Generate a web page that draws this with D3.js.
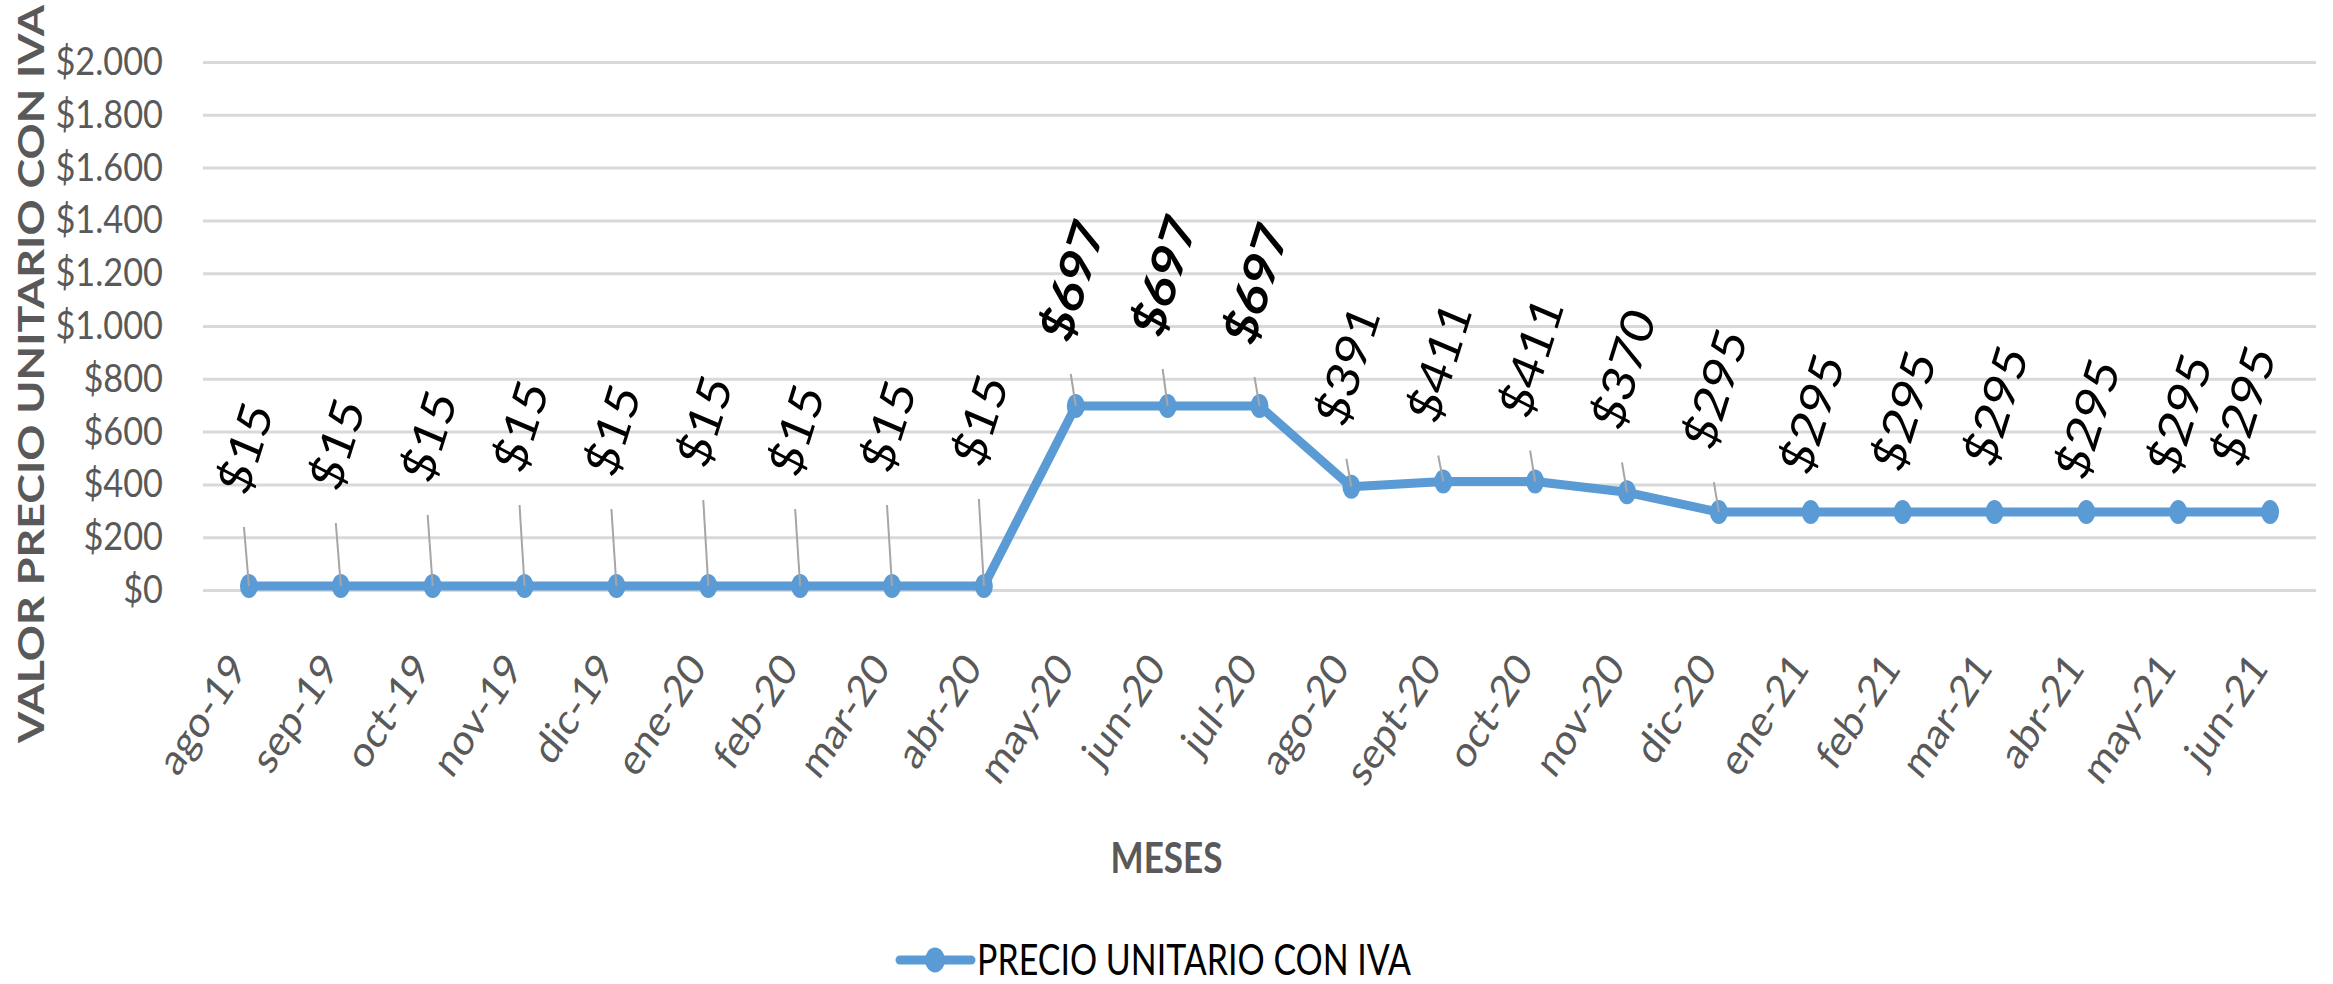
<!DOCTYPE html>
<html>
<head>
<meta charset="utf-8">
<script src="https://cdn.jsdelivr.net/npm/d3@7"></script>
<style>
body { margin: 0; background: #fff; }
</style>
</head>
<body>
<div id="chart"></div>
<script>
// Data
var months = ['ago-19', 'sep-19', 'oct-19', 'nov-19', 'dic-19', 'ene-20', 'feb-20', 'mar-20', 'abr-20',
  'may-20', 'jun-20', 'jul-20', 'ago-20', 'sept-20', 'oct-20', 'nov-20', 'dic-20',
  'ene-21', 'feb-21', 'mar-21', 'abr-21', 'may-21', 'jun-21']
var prices = [15, 15, 15, 15, 15, 15, 15, 15, 15,
  697, 697, 697, 391, 411, 411, 370, 295,
  295, 295, 295, 295, 295, 295]
var yTicks = [0, 200, 400, 600, 800, 1000, 1200, 1400, 1600, 1800, 2000]
var seriesName = 'PRECIO UNITARIO CON IVA'
var xTitle = 'MESES'
var yTitle = 'VALOR PRECIO UNITARIO CON IVA'

var settings = {}

// General
settings.width = 2333
settings.height = 984
settings.plot = {left: 203, right: 2316, top: 62, bottom: 590}
settings.font = 'Lato, "Open Sans", sans-serif'
settings.squeeze = 0.86 // horizontal squeeze of the text
settings.text_gray = '#595959'
settings.line_color = '#5b9bd5'
settings.grid_color = '#d9d9d9'
settings.leader_color = '#a6a6a6'

// Labels
settings.tick_font_size = 44
settings.tick_angle = 53
settings.label_font_size = 53
settings.label_angle = 70
settings.label_shift = -5 // labels sit a little left of their point
// distance from the point up to the bottom of each data label
settings.label_gap = [84, 88, 96, 106, 102, 111, 102, 106, 112,
  57, 62, 54, 53, 51, 56, 55, 55, 30, 33, 38, 25, 30, 38]

// --- (end of settings)

var P = settings.plot
var SX = settings.squeeze

var svg = d3.select('#chart').append('svg')
  .attr('width', settings.width)
  .attr('height', settings.height)
  .style('display', 'block')

var x = d3.scaleBand().domain(months).range([P.left, P.right])
var y = d3.scaleLinear().domain([0, 2000]).range([P.bottom, P.top])
var px = function(m){ return x(m) + x.bandwidth() / 2 }

var locale = d3.formatLocale({decimal: ',', thousands: '.', grouping: [3], currency: ['$', '']})
var money = locale.format('$,.0f')

// Y axis with gridlines
var yAxis = svg.append('g')
  .attr('transform', 'translate(' + P.left + ',0)')
  .call(d3.axisLeft(y)
    .tickValues(yTicks)
    .tickFormat(money)
    .tickSize(-(P.right - P.left))
    .tickPadding(40))
yAxis.select('.domain').remove()
yAxis.selectAll('.tick line')
  .attr('stroke', settings.grid_color)
  .attr('stroke-width', 3)
yAxis.selectAll('.tick text')
  .attr('x', -40 / 0.88)
  .attr('transform', 'scale(0.88,1)')
  .attr('fill', settings.text_gray)
  .attr('font-family', settings.font)
  .attr('font-size', 39)

// X axis labels
var xAxis = svg.append('g')
  .attr('transform', 'translate(0,' + P.bottom + ')')
  .call(d3.axisBottom(x).tickSize(0))
xAxis.select('.domain').remove()
xAxis.selectAll('.tick').each(function(m){
  var t = d3.select(this).select('text')
    .attr('x', 0).attr('y', 0).attr('dy', 0)
    .attr('text-anchor', 'end')
    .attr('fill', settings.text_gray)
    .attr('font-family', settings.font)
    .attr('font-size', settings.tick_font_size)
  var base = 'scale(' + SX + ',1) rotate(' + (-settings.tick_angle) + ')'
  t.attr('transform', base)
  var r = t.node().getBoundingClientRect()
  var dx = (px(m) + 6) - r.right
  var dy = 643 - r.top
  t.attr('transform', 'translate(' + dx + ',' + dy + ') ' + base)
})

// Line
svg.append('path')
  .datum(prices)
  .attr('d', d3.line()
    .x(function(d, i){ return px(months[i]) })
    .y(function(d){ return y(d) }))
  .attr('fill', 'none')
  .attr('stroke', settings.line_color)
  .attr('stroke-width', 9)
  .attr('stroke-linejoin', 'round')

// Markers
svg.selectAll('ellipse.mark')
  .data(prices)
  .join('ellipse')
  .attr('class', 'mark')
  .attr('cx', function(d, i){ return px(months[i]) })
  .attr('cy', function(d){ return y(d) })
  .attr('rx', 9)
  .attr('ry', 12)
  .attr('fill', settings.line_color)

// Data labels and leader lines
var labels = svg.append('g')
prices.forEach(function(v, i){
  var cx = px(months[i])
  var cy = y(v)
  var gap = settings.label_gap[i]
  var t = labels.append('text')
    .text(money(v))
    .attr('text-anchor', 'middle')
    .attr('dy', '0.35em')
    .attr('fill', '#000')
    .attr('font-family', settings.font)
    .attr('font-size', settings.label_font_size)
    .attr('font-weight', v > 600 ? 'bold' : 'normal')
  var base = 'scale(' + SX + ',1) rotate(' + (-settings.label_angle) + ')'
  t.attr('transform', 'translate(' + cx + ',0) ' + base)
  var r = t.node().getBoundingClientRect()
  var shift = gap > 45 ? settings.label_shift : 0
  var dx = cx + shift - (r.left + r.right) / 2
  if (r.right + dx > P.right - 30) dx = P.right - 30 - r.right
  var bottom = cy - gap
  var dy = bottom - r.bottom
  t.attr('transform', 'translate(' + (cx + dx) + ',' + dy + ') ' + base)

  if (gap > 45) {
    labels.append('line')
      .attr('x1', (r.left + r.right) / 2 + dx)
      .attr('y1', bottom + 25)
      .attr('x2', cx)
      .attr('y2', cy)
      .attr('stroke', settings.leader_color)
      .attr('stroke-width', 2)
  }
})

// Axis titles
svg.append('text')
  .attr('transform', 'translate(30,374) rotate(-90)')
  .attr('text-anchor', 'middle')
  .attr('dominant-baseline', 'central')
  .attr('font-family', settings.font)
  .attr('font-weight', 'bold')
  .attr('font-size', 36)
  .attr('fill', settings.text_gray)
  .attr('textLength', 738)
  .attr('lengthAdjust', 'spacingAndGlyphs')
  .text(yTitle)

svg.append('text')
  .attr('x', settings.width / 2)
  .attr('y', 873)
  .attr('text-anchor', 'middle')
  .attr('font-family', settings.font)
  .attr('font-weight', 'bold')
  .attr('font-size', 42)
  .attr('fill', settings.text_gray)
  .attr('textLength', 112)
  .attr('lengthAdjust', 'spacingAndGlyphs')
  .text(xTitle)

// Legend
var legend = svg.append('g')
legend.append('line')
  .attr('x1', 900).attr('x2', 971)
  .attr('y1', 960).attr('y2', 960)
  .attr('stroke', settings.line_color)
  .attr('stroke-width', 9)
  .attr('stroke-linecap', 'round')
legend.append('ellipse')
  .attr('cx', 935).attr('cy', 960)
  .attr('rx', 10).attr('ry', 12.5)
  .attr('fill', settings.line_color)
legend.append('text')
  .attr('x', 977)
  .attr('y', 975)
  .attr('font-family', settings.font)
  .attr('font-size', 42)
  .attr('fill', '#000')
  .attr('textLength', 434)
  .attr('lengthAdjust', 'spacingAndGlyphs')
  .text(seriesName)
</script>
</body>
</html>
